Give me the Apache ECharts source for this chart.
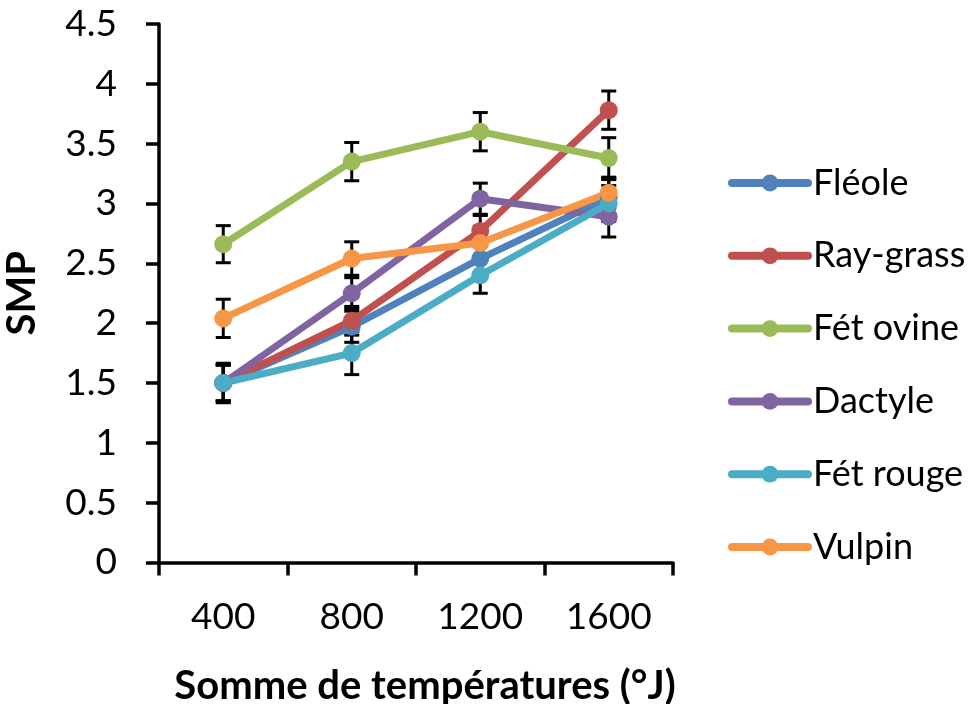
<!DOCTYPE html>
<html>
<head>
<meta charset="utf-8">
<script src="https://cdn.jsdelivr.net/npm/echarts@6/dist/echarts.min.js"></script>
<style>html,body{margin:0;padding:0;background:#fff}#c{width:973px;height:704px}</style>
</head>
<body>
<div id="c"></div>
<script>
const categories = ['400', '800', '1200', '1600'];
const seriesNames = ['Fléole', 'Ray-grass', 'Fét ovine', 'Dactyle', 'Fét rouge', 'Vulpin'];
const colors = ['#4F81BD', '#C0504D', '#9BBB59', '#8064A2', '#4BACC6', '#F79646'];

const fleole   = [1.50, 1.97, 2.54, 3.05];
const raygrass = [1.50, 2.02, 2.77, 3.78];
const fetOvine = [2.66, 3.35, 3.60, 3.38];
const dactyle  = [1.50, 2.25, 3.04, 2.89];
const fetRouge = [1.50, 1.75, 2.40, 3.00];
const vulpin   = [2.04, 2.54, 2.67, 3.09];

const errFleole   = [0.15, 0.13, 0.13, 0.15];
const errRaygrass = [0.15, 0.12, 0.13, 0.16];
const errFetOvine = [0.155, 0.16, 0.16, 0.17];
const errDactyle  = [0.15, 0.13, 0.13, 0.17];
const errFetRouge = [0.165, 0.18, 0.15, 0.15];
const errVulpin   = [0.16, 0.14, 0.14, 0.13];

const yTicks = { min: 0, max: 4.5, interval: 0.5 };

const values = [fleole, raygrass, fetOvine, dactyle, fetRouge, vulpin];
const errors = [errFleole, errRaygrass, errFetOvine, errDactyle, errFetRouge, errVulpin];

const FONT = 'Lato';
const series = [];
seriesNames.forEach(function (name, i) {
  series.push({
    type: 'custom',
    name: name + '_err',
    silent: true,
    z: 2,
    data: values[i].map(function (v, j) { return [j, v - errors[i][j], v + errors[i][j]]; }),
    renderItem: function (params, api) {
      const lo = api.coord([api.value(0), api.value(1)]);
      const hi = api.coord([api.value(0), api.value(2)]);
      const hw = 7.5;
      const st = { stroke: '#000', lineWidth: 3 };
      return {
        type: 'group',
        children: [
          { type: 'line', shape: { x1: lo[0], y1: lo[1], x2: hi[0], y2: hi[1] }, style: st },
          { type: 'line', shape: { x1: lo[0] - hw, y1: lo[1], x2: lo[0] + hw, y2: lo[1] }, style: st },
          { type: 'line', shape: { x1: hi[0] - hw, y1: hi[1], x2: hi[0] + hw, y2: hi[1] }, style: st }
        ]
      };
    },
    encode: { x: 0, y: [1, 2] }
  });
  series.push({
    type: 'line',
    name: name,
    z: 2,
    data: values[i],
    symbol: 'circle',
    symbolSize: 18,
    showAllSymbol: true,
    lineStyle: { color: colors[i], width: 7, cap: 'round', join: 'round' },
    itemStyle: { color: colors[i], borderWidth: 0 },
    emphasis: { disabled: true }
  });
});

const chart = echarts.init(document.getElementById('c'), null, { renderer: 'canvas' });
chart.setOption({
  animation: false,
  backgroundColor: '#fff',
  grid: { left: 159, top: 24, width: 514, height: 538.5, containLabel: false, outerBoundsMode: 'none' },
  legend: {
    data: seriesNames,
    orient: 'vertical',
    left: 723,
    top: 158,
    itemWidth: 76,
    itemHeight: 21,
    itemGap: 32.8,
    lineStyle: { width: 8, cap: 'round' },
    textStyle: { fontFamily: FONT, fontSize: 36, color: '#000', lineHeight: 40 },
    selectedMode: false
  },
  xAxis: {
    type: 'category',
    data: categories,
    boundaryGap: true,
    axisLine: { lineStyle: { color: '#000', width: 3.5 } },
    axisTick: { show: true, length: 13, lineStyle: { color: '#000', width: 3.5 } },
    axisLabel: { fontFamily: FONT, fontSize: 37, color: '#000', margin: 36 },
    name: 'Somme de températures (°J)',
    nameLocation: 'middle',
    nameGap: 104,
    nameTextStyle: { fontFamily: FONT, fontWeight: 'bold', fontSize: 40, color: '#000', padding: [0, 0, 0, 18] }
  },
  yAxis: {
    type: 'value',
    min: yTicks.min,
    max: yTicks.max,
    interval: yTicks.interval,
    splitLine: { show: false },
    axisLine: { show: true, lineStyle: { color: '#000', width: 3.5 } },
    axisTick: { show: true, length: 13, lineStyle: { color: '#000', width: 3.5 } },
    axisLabel: { fontFamily: FONT, fontSize: 37, color: '#000', margin: 42 },
    name: 'SMP',
    nameLocation: 'middle',
    nameGap: 117,
    nameTextStyle: { fontFamily: FONT, fontWeight: 'bold', fontSize: 40, color: '#000' }
  },
  series: series
});
</script>
</body>
</html>
